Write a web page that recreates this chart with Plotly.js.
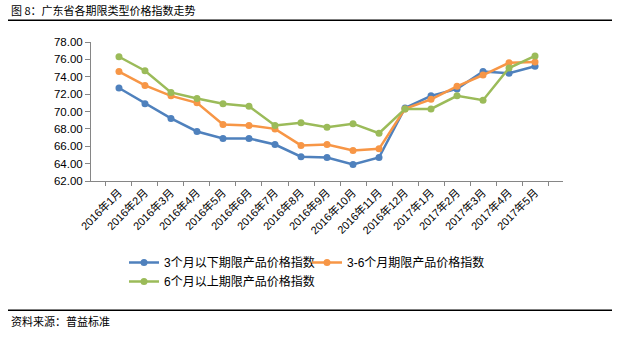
<!DOCTYPE html>
<html>
<head>
<meta charset="utf-8">
<script src="https://cdn.plot.ly/plotly-3.0.1.min.js"></script>
<style>
html,body{margin:0;padding:0;background:#fff;}
#chart{width:621px;height:340px;}
</style>
</head>
<body>
<div id="chart"></div>
<script>
var categories = ["2016年1月","2016年2月","2016年3月","2016年4月","2016年5月","2016年6月","2016年7月","2016年8月","2016年9月","2016年10月","2016年11月","2016年12月","2017年1月","2017年2月","2017年3月","2017年4月","2017年5月"];
var seriesNames = ["3个月以下期限产品价格指数","3-6个月期限产品价格指数","6个月以上期限产品价格指数"];
var below3 = [72.7,70.9,69.2,67.7,66.9,66.9,66.2,64.8,64.7,63.9,64.7,70.4,71.8,72.6,74.6,74.4,75.2];
var m3to6 = [74.6,73.0,71.8,71.0,68.5,68.4,68.0,66.1,66.2,65.5,65.7,70.3,71.4,72.9,74.2,75.6,75.7];
var above6 = [76.3,74.7,72.2,71.5,70.9,70.6,68.4,68.7,68.2,68.6,67.5,70.3,70.3,71.8,71.3,75.0,76.4];
var yTicks = [62,64,66,68,70,72,74,76,78];
var colors = ["#4F81BD","#F79646","#9BBB59"];

var W = 621, H = 340;
var L = 91, R = 58, T = 42, B = 159;
var pw = W - L - R, ph = H - T - B;
function px(x){ return (x - L) / pw; }
function py(y){ return (H - B - y) / ph; }

var data = [below3, m3to6, above6].map(function(vals, i){
  return {
    type: "scatter", mode: "lines+markers",
    x: categories, y: vals, name: seriesNames[i],
    line: {color: colors[i], width: 2.5},
    marker: {color: colors[i], size: 7}
  };
});

var layout = {
  width: W, height: H,
  margin: {l: L, r: R, t: T, b: B, pad: 0},
  paper_bgcolor: "#fff", plot_bgcolor: "#fff",
  font: {family: "Liberation Sans, Arial, 'Noto Sans CJK SC', sans-serif", color: "#000"},
  showlegend: true,
  legend: {
    orientation: "h", x: px(124), y: py(248), xanchor: "left", yanchor: "top",
    font: {size: 12, family: "Liberation Sans, 'Noto Sans CJK SC', sans-serif", color: "#000"},
    entrywidth: 138, entrywidthmode: "pixels",
    tracegroupgap: 0, bgcolor: "rgba(0,0,0,0)"
  },
  xaxis: {
    type: "category", tickangle: -45,
    tickfont: {size: 11, family: "Liberation Sans, 'Noto Sans CJK SC', sans-serif", color: "#000"},
    showline: true, linecolor: "#868686", linewidth: 1,
    ticks: "outside", ticklen: 4, tickcolor: "#868686", tickson: "boundaries",
    showgrid: false, zeroline: false, fixedrange: true
  },
  yaxis: {
    range: [62, 78], tickvals: yTicks,
    ticktext: yTicks.map(function(v){ return v.toFixed(2); }),
    tickfont: {size: 11.5, family: "Liberation Sans, Arial, sans-serif", color: "#000"},
    showline: true, linecolor: "#868686", linewidth: 1,
    ticks: "outside", ticklen: 5, tickcolor: "#868686",
    showgrid: false, zeroline: false, fixedrange: true
  },
  shapes: [
    {type: "line", xref: "paper", yref: "paper", x0: px(8), x1: px(612), y0: py(20.3), y1: py(20.3), line: {color: "#000", width: 1.5}},
    {type: "line", xref: "paper", yref: "paper", x0: px(8), x1: px(612), y0: py(310.3), y1: py(310.3), line: {color: "#000", width: 1.5}}
  ],
  annotations: [
    {xref: "paper", yref: "paper", x: px(9), y: py(10), xanchor: "left", yanchor: "middle", showarrow: false,
     text: "图 8：广东省各期限类型价格指数走势", font: {size: 11, family: "'Noto Sans CJK SC', sans-serif", color: "#000"}},
    {xref: "paper", yref: "paper", x: px(9), y: py(321), xanchor: "left", yanchor: "middle", showarrow: false,
     text: "资料来源：普益标准", font: {size: 11, family: "'Noto Sans CJK SC', sans-serif", color: "#000"}}
  ]
};

Plotly.newPlot("chart", data, layout, {displayModeBar: false, staticPlot: true});
</script>
</body>
</html>
